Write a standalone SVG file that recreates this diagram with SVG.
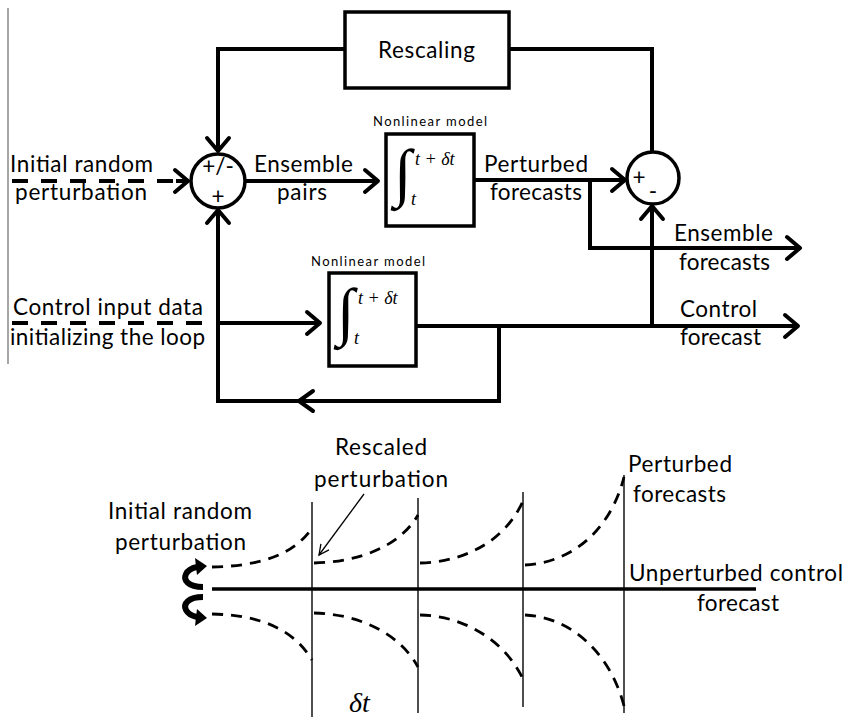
<svg xmlns="http://www.w3.org/2000/svg" width="845" height="719" viewBox="0 0 845 719">
<style>
.lbl{font-family:Lato,"Open Sans","Liberation Sans",sans-serif;font-size:22.5px;fill:#000}
.sm{font-family:Lato,"Open Sans","Liberation Sans",sans-serif;font-size:13px;fill:#000}
.math{font-family:"Liberation Serif","DejaVu Serif",serif;font-style:italic;fill:#000}
.box{fill:#fff;stroke:#000;stroke-width:3.5}
.ln{fill:none;stroke:#000;stroke-width:4;stroke-linejoin:miter}
.dash{fill:none;stroke:#000;stroke-width:4;stroke-dasharray:16 13}
.thin{fill:none;stroke:#222;stroke-width:1.6}
.cdash{fill:none;stroke:#000;stroke-width:2.8;stroke-dasharray:11 8}
</style>
<defs>
<marker id="ah" viewBox="-20 -15 26 30" refX="0" refY="0" markerWidth="26" markerHeight="30" markerUnits="userSpaceOnUse" orient="auto">
<path d="M-13,-11 L0,0 L-13,11" fill="none" stroke="#000" stroke-width="4" stroke-linecap="round" stroke-linejoin="round"/>
</marker>
<marker id="ahs" viewBox="-14 -8 18 16" refX="0" refY="0" markerWidth="18" markerHeight="16" markerUnits="userSpaceOnUse" orient="auto">
<path d="M-10,-5 L0,0 L-10,5" fill="none" stroke="#000" stroke-width="1.3"/>
</marker>
</defs>
<rect width="845" height="719" fill="#fff"/>
<line x1="8" y1="8" x2="8" y2="364" stroke="#888" stroke-width="1.5"/>

<g id="connectors">
<path class="ln" d="M345,49 H218 V151" marker-end="url(#ah)"/>
<path class="ln" d="M509,49 H652 V152"/>
<path class="dash" d="M12,181 H176"/>
<path class="ln" d="M176,181 H188" marker-end="url(#ah)"/>
<path class="ln" d="M245,181 H378" marker-end="url(#ah)"/>
<path class="ln" d="M474,180 H625" marker-end="url(#ah)"/>
<path class="ln" d="M590,180 V248 H800" marker-end="url(#ah)"/>
<path class="ln" d="M652,326 V206" marker-end="url(#ah)"/>
<path class="dash" d="M12,323 H210"/>
<path class="ln" d="M218,323 H320" marker-end="url(#ah)"/>
<path class="ln" d="M416,326 H798" marker-end="url(#ah)"/>
<path class="ln" d="M499,326 V401 H218 V210" marker-end="url(#ah)"/>
<path d="M313,391 L299,401 L313,411" fill="none" stroke="#000" stroke-width="4" stroke-linecap="round" stroke-linejoin="round"/>
</g>

<g id="rescaling">
<rect class="box" x="345" y="12" width="164" height="76"/>
<text class="lbl" x="378" y="58" font-size="23" textLength="97">Rescaling</text>
</g>

<g id="sum1">
<circle cx="218" cy="181" r="27" fill="#fff" stroke="#000" stroke-width="3.5"/>
<text class="lbl" x="218" y="174" font-size="21" text-anchor="middle">+/-</text>
<text class="lbl" x="218" y="204" font-size="21" text-anchor="middle">+</text>
</g>

<g id="sum2">
<circle cx="653" cy="178" r="26" fill="#fff" stroke="#000" stroke-width="3.5"/>
<text class="lbl" x="639" y="185" font-size="19" text-anchor="middle">+</text>
<text class="lbl" x="653" y="199" font-size="19" text-anchor="middle">-</text>
</g>

<g id="model1">
<rect class="box" x="386" y="134" width="88" height="92"/>
<text class="sm" x="373" y="126" textLength="114">Nonlinear model</text>
<text class="math" x="394" y="194" font-size="64" font-style="normal">∫</text>
<text class="math" x="415" y="165" font-size="18">t + δt</text>
<text class="math" x="411" y="205" font-size="18">t</text>
</g>

<g id="model2">
<rect class="box" x="329" y="273" width="87" height="93"/>
<text class="sm" x="311" y="266" textLength="114">Nonlinear model</text>
<text class="math" x="337" y="333" font-size="64" font-style="normal">∫</text>
<text class="math" x="358" y="304" font-size="18">t + δt</text>
<text class="math" x="354" y="344" font-size="18">t</text>
</g>

<g id="labels-top">
<text class="lbl" x="10" y="172" textLength="143">Initial random</text>
<text class="lbl" x="15" y="200" textLength="132">perturbation</text>
<text class="lbl" x="254" y="172" textLength="99">Ensemble</text>
<text class="lbl" x="277" y="200" textLength="50">pairs</text>
<text class="lbl" x="484" y="172" textLength="104">Perturbed</text>
<text class="lbl" x="490" y="200" textLength="92">forecasts</text>
<text class="lbl" x="674" y="241" textLength="99">Ensemble</text>
<text class="lbl" x="679" y="270" textLength="91">forecasts</text>
<text class="lbl" x="13" y="315" textLength="190">Control input data</text>
<text class="lbl" x="10" y="345" textLength="195">initializing the loop</text>
<text class="lbl" x="680" y="317" textLength="77">Control</text>
<text class="lbl" x="680" y="345" textLength="81">forecast</text>
</g>

<g id="timeline">
<line class="thin" x1="312" y1="502" x2="312" y2="717"/>
<line class="thin" x1="418" y1="498" x2="418" y2="713"/>
<line class="thin" x1="523" y1="492" x2="523" y2="707"/>
<line class="thin" x1="624" y1="475" x2="624" y2="713"/>
<line x1="212" y1="589" x2="756" y2="589" stroke="#000" stroke-width="3.5"/>
<path class="cdash" d="M212,567 C258,566 293,556 312,528"/>
<path class="cdash" d="M314,563 C360,562 400,546 418,515"/>
<path class="cdash" d="M420,563 C465,562 505,541 523,501"/>
<path class="cdash" d="M525,565 C570,563 610,532 624,477"/>
<path class="cdash" d="M212,614 C258,615 293,628 312,660"/>
<path class="cdash" d="M314,613 C360,614 400,634 418,667"/>
<path class="cdash" d="M420,615 C465,616 505,641 523,679"/>
<path class="cdash" d="M525,615 C570,617 610,652 624,706"/>
<path d="M203,587 C188,587 183,580 186,574 C188,570 192,568 197,567" fill="none" stroke="#000" stroke-width="6"/>
<path d="M207,566 L195,558 L197,575 Z" fill="#000"/>
<path d="M203,597 C188,597 183,604 186,610 C188,614 192,616 197,617" fill="none" stroke="#000" stroke-width="6"/>
<path d="M207,618 L195,626 L197,609 Z" fill="#000"/>
<line x1="364" y1="494" x2="319" y2="555" stroke="#000" stroke-width="1.3" marker-end="url(#ahs)"/>
<text class="lbl" x="335" y="455" textLength="92">Rescaled</text>
<text class="lbl" x="314" y="487" textLength="134">perturbation</text>
<text class="lbl" x="628" y="472" textLength="104">Perturbed</text>
<text class="lbl" x="633" y="502" textLength="93">forecasts</text>
<text class="lbl" x="108" y="519" textLength="144">Initial random</text>
<text class="lbl" x="115" y="550" textLength="131">perturbation</text>
<text class="lbl" x="629" y="581" textLength="214">Unperturbed control</text>
<text class="lbl" x="697" y="611" textLength="82">forecast</text>
<text class="math" x="349" y="712" font-size="28">δt</text>
</g>
</svg>
